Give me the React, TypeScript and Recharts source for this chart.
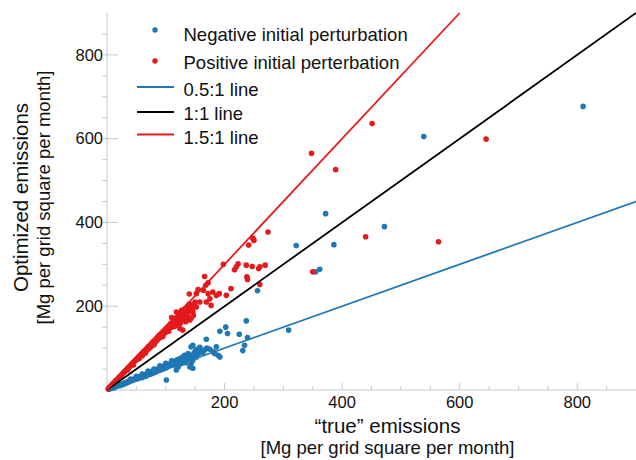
import React from "react";
import { ScatterChart, Scatter, XAxis, YAxis, Legend, Label } from "recharts";

// emissions in Mg per grid square per month: [true, optimized]
const negativePoints: [number, number][] = [
  [810, 677], [539, 605], [372, 421], [472, 390], [386, 347], [322, 345],
  [355, 282], [362, 288], [256, 237], [309, 143], [237, 165], [202, 150],
  [192, 140], [205, 135], [225, 133], [239, 125], [169, 121], [234, 107],
  [231, 94], [186, 103], [181, 91], [189, 83], [183, 87], [192, 79],
  [158, 102], [152, 97], [146, 107], [143, 103], [138, 87], [132, 83],
  [124, 75], [129, 79], [146, 71], [141, 75], [152, 79], [143, 63],
  [134, 65], [118, 67], [121, 55], [127, 63], [115, 60], [101, 24],
  [118, 48], [146, 52], [141, 55],
  [3, 2], [5, 3], [7, 4], [8, 5], [10, 5], [12, 7], [13, 6], [15, 8],
  [17, 9], [18, 10], [20, 11], [22, 12], [23, 11], [25, 14], [27, 15],
  [28, 13], [30, 17], [32, 16], [34, 18], [35, 20], [37, 19], [39, 22],
  [40, 21], [42, 24], [44, 23], [46, 26], [48, 25], [50, 28], [52, 27],
  [54, 30], [55, 32], [57, 29], [59, 33], [61, 31], [63, 36], [65, 34],
  [67, 38], [69, 36], [70, 41], [72, 39], [74, 43], [76, 40], [78, 45],
  [80, 42], [82, 47], [84, 45], [86, 50], [88, 48], [90, 53], [92, 49],
  [94, 55], [96, 52], [98, 58], [100, 54], [102, 60], [104, 57], [106, 62],
  [108, 59], [110, 64], [112, 61], [114, 68], [116, 65], [119, 72],
  [122, 70], [125, 74], [128, 70], [131, 77], [135, 80], [137, 76],
  [140, 84], [148, 88], [150, 92], [155, 86], [160, 95], [163, 90],
  [170, 100], [175, 97],
  [60, 30], [66, 33], [71, 37], [75, 38], [79, 41], [83, 43], [87, 46],
  [91, 48], [95, 50], [99, 52], [103, 55], [107, 58], [111, 60], [113, 63],
  [117, 62], [120, 66], [123, 65], [126, 68], [130, 72], [133, 70],
  [136, 74], [139, 78], [142, 80], [145, 82], [149, 84], [153, 88],
  [157, 90], [161, 92], [165, 94], [168, 98],
  [40, 26], [50, 33], [60, 38], [70, 45], [80, 50], [90, 58], [100, 64],
  [110, 70],
];

const positivePoints: [number, number][] = [
  [348, 565], [451, 636], [389, 526], [645, 599], [440, 366], [564, 354],
  [350, 282], [274, 377], [248, 363], [250, 357], [241, 346], [249, 360],
  [198, 300], [223, 301], [220, 294], [217, 287], [237, 298], [247, 295],
  [258, 290], [260, 294], [269, 298], [238, 270], [239, 264], [260, 252],
  [166, 271], [172, 256], [168, 250], [211, 242], [164, 238], [155, 240],
  [152, 230], [140, 229], [172, 230], [180, 234], [186, 226], [191, 230],
  [203, 226], [175, 218], [169, 210], [177, 202], [158, 210], [152, 198],
  [146, 186], [147, 178], [138, 174], [141, 167], [143, 171], [134, 163],
  [124, 183], [118, 186], [127, 190], [110, 173], [115, 163], [121, 155],
  [124, 147], [129, 143],
  [2, 3], [4, 6], [5, 7], [7, 10], [9, 13], [10, 15], [12, 17], [14, 21],
  [15, 22], [17, 25], [19, 27], [20, 30], [22, 32], [24, 35], [25, 36],
  [27, 40], [29, 42], [30, 44], [32, 47], [34, 49], [35, 52], [37, 54],
  [39, 57], [40, 58], [42, 62], [44, 64], [45, 66], [47, 69], [49, 71],
  [50, 73], [52, 76], [54, 79], [55, 80], [57, 84], [59, 86], [60, 88],
  [62, 91], [64, 93], [65, 95], [67, 98], [69, 100], [70, 103], [72, 105],
  [74, 108], [75, 109], [77, 113], [79, 115], [80, 117], [82, 120],
  [84, 122], [85, 124], [87, 128], [89, 129], [90, 132], [92, 134],
  [94, 137], [96, 140], [98, 142], [100, 146], [102, 148], [104, 152],
  [106, 153], [108, 158], [110, 160], [113, 164], [116, 170], [119, 174],
  [122, 178], [125, 182], [128, 188], [131, 192], [134, 195], [137, 200],
  [140, 205], [60, 82], [75, 104], [90, 125], [100, 138], [110, 150],
  [120, 165], [95, 132], [85, 118],
  [62, 86], [66, 90], [70, 97], [73, 101], [78, 108], [81, 112], [83, 116],
  [86, 121], [88, 124], [91, 128], [93, 130], [97, 135], [99, 140],
  [101, 142], [103, 145], [105, 148], [107, 150], [109, 154], [111, 156],
  [112, 160], [114, 158], [117, 165], [118, 160], [120, 170], [123, 172],
  [126, 176], [127, 170], [129, 180], [130, 175], [132, 185], [133, 178],
  [135, 190], [136, 182], [138, 192], [139, 186], [142, 196], [144, 200],
  [145, 192], [148, 205], [150, 210],
  [35, 48], [45, 60], [55, 75], [65, 88], [80, 108], [95, 128], [105, 140],
  [115, 152], [125, 160], [130, 168], [135, 172],
];

// reference lines, end points
const halfLine: [number, number][] = [[0, 0], [900, 450]];
const oneLine: [number, number][] = [[0, 0], [900, 900]];
const oneHalfLine: [number, number][] = [[0, 0], [600, 900]];

const axisTicks = [50, 100, 150, 200, 250, 300, 350, 400, 450, 500, 550, 600, 650, 700, 750, 800, 850];
const labelledTicks = [200, 400, 600, 800];

const BLUE = "#1f77b4";
const RED = "#e41a1c";
const GREY = "#c8c8c8";
const FONT = "'Liberation Sans', Arial, Helvetica, sans-serif";

const toXY = (pts: [number, number][]) => pts.map(([x, y]) => ({ x, y }));

const dot = (color: string) => (p: any) => <circle cx={p.cx} cy={p.cy} r={2.8} fill={color} />;
const noDot = () => <g />;

const isMajor = (v: number) => labelledTicks.includes(v);

const BottomTick = (p: any) => {
  const major = isMajor(p.payload.value);
  return (
    <g>
      <line x1={p.x} x2={p.x} y1={p.y} y2={p.y - (major ? 7 : 4)} stroke={GREY} />
      {major && (
        <text x={p.x} y={p.y + 17.5} textAnchor="middle" fontSize={16.5} fontFamily={FONT} fill="#111">
          {p.payload.value}
        </text>
      )}
    </g>
  );
};

const TopTick = (p: any) => {
  const major = isMajor(p.payload.value);
  return <line x1={p.x} x2={p.x} y1={p.y} y2={p.y + (major ? 7 : 4)} stroke={GREY} />;
};

const LeftTick = (p: any) => {
  const major = isMajor(p.payload.value);
  return (
    <g>
      <line x1={major ? p.x - 4 : p.x - 5} x2={major ? p.x + 11 : p.x} y1={p.y} y2={p.y} stroke={GREY} />
      {major && (
        <text x={p.x - 4} y={p.y + 5.8} textAnchor="end" fontSize={16.5} fontFamily={FONT} fill="#111">
          {p.payload.value}
        </text>
      )}
    </g>
  );
};

const RightTick = (p: any) => {
  const major = isMajor(p.payload.value);
  return <line x1={p.x} x2={p.x - (major ? 10 : 9)} y1={p.y} y2={p.y} stroke={GREY} />;
};

const XTitle = (props: any) => {
  const { x, y, width } = props.viewBox;
  const cx = x + width / 2 + 16;
  return (
    <g fontFamily={FONT} fill="#111" textAnchor="middle">
      <text x={cx} y={y + 43} fontSize={20.5}>“true” emissions</text>
      <text x={cx} y={y + 63.5} fontSize={18.5}>[Mg per grid square per month]</text>
    </g>
  );
};

const YTitle = (props: any) => {
  const { y, height } = props.viewBox;
  const cy = y + height / 2 - 4;
  return (
    <g fontFamily={FONT} fill="#111" textAnchor="middle">
      <text x={28} y={cy} fontSize={20.5} transform={`rotate(-90 28 ${cy})`}>Optimized emissions</text>
      <text x={49.5} y={cy} fontSize={18.5} transform={`rotate(-90 49.5 ${cy})`}>[Mg per grid square per month]</text>
    </g>
  );
};

const legendMarkers = [
  { label: "Negative initial perturbation", color: BLUE, kind: "dot", y: 30, textY: 41 },
  { label: "Positive initial perterbation", color: RED, kind: "dot", y: 61, textY: 69 },
  { label: "0.5:1 line", color: BLUE, kind: "line", y: 87, textY: 95.5 },
  { label: "1:1 line", color: "#000", kind: "line", y: 112, textY: 120 },
  { label: "1.5:1 line", color: RED, kind: "line", y: 134.5, textY: 144 },
];

const LegendContent = () => (
  <svg width={440} height={155} style={{ display: "block" }}>
    {legendMarkers.map((m) => (
      <g key={m.label}>
        {m.kind === "dot" ? (
          <circle cx={155} cy={m.y} r={2.7} fill={m.color} />
        ) : (
          <line x1={137} x2={174} y1={m.y} y2={m.y} stroke={m.color} strokeWidth={1.8} />
        )}
        <text x={183.5} y={m.textY} fontSize={18.5} fontFamily={FONT} fill="#111">
          {m.label}
        </text>
      </g>
    ))}
  </svg>
);

export default function App() {
  return (
    <div style={{ position: "absolute", left: 0, top: 0, width: 636, height: 460, overflow: "hidden", background: "#fff" }}>
      <ScatterChart width={636} height={460} margin={{ top: 13, right: 0, bottom: 0, left: 0 }}>
        <XAxis
          xAxisId="b"
          type="number"
          dataKey="x"
          domain={[0, 900]}
          ticks={axisTicks}
          interval={0}
          tickSize={0}
          tickMargin={0}
          tickLine={false}
          tick={<BottomTick />}
          axisLine={{ stroke: GREY }}
          height={70}
          orientation="bottom"
        >
          <Label content={<XTitle />} />
        </XAxis>
        <XAxis
          xAxisId="t"
          type="number"
          dataKey="x"
          domain={[0, 900]}
          ticks={axisTicks}
          interval={0}
          tickSize={0}
          tickMargin={0}
          tickLine={false}
          tick={<TopTick />}
          axisLine={{ stroke: GREY }}
          height={0}
          orientation="top"
        />
        <YAxis
          yAxisId="l"
          type="number"
          dataKey="y"
          domain={[0, 900]}
          ticks={axisTicks}
          interval={0}
          tickSize={0}
          tickMargin={0}
          tickLine={false}
          tick={<LeftTick />}
          axisLine={{ stroke: GREY }}
          width={107}
          orientation="left"
        >
          <Label content={<YTitle />} />
        </YAxis>
        <YAxis
          yAxisId="r"
          type="number"
          dataKey="y"
          domain={[0, 900]}
          ticks={axisTicks}
          interval={0}
          tickSize={0}
          tickMargin={0}
          tickLine={false}
          tick={<RightTick />}
          axisLine={{ stroke: GREY }}
          width={0}
          orientation="right"
        />
        <Legend
          layout="horizontal"
          verticalAlign="middle"
          align="center"
          wrapperStyle={{ left: 0, top: 0, width: 440, height: 155 }}
          content={<LegendContent />}
        />
        <Scatter xAxisId="b" yAxisId="l" data={toXY(negativePoints)} shape={dot(BLUE)} isAnimationActive={false} />
        <Scatter xAxisId="b" yAxisId="l" data={toXY(positivePoints)} shape={dot(RED)} isAnimationActive={false} />
        <Scatter xAxisId="b" yAxisId="l" data={toXY(halfLine)} shape={noDot} line={{ stroke: BLUE, strokeWidth: 1.8 }} isAnimationActive={false} />
        <Scatter xAxisId="b" yAxisId="l" data={toXY(oneLine)} shape={noDot} line={{ stroke: "#000", strokeWidth: 1.8 }} isAnimationActive={false} />
        <Scatter xAxisId="b" yAxisId="l" data={toXY(oneHalfLine)} shape={noDot} line={{ stroke: RED, strokeWidth: 1.8 }} isAnimationActive={false} />
      </ScatterChart>
    </div>
  );
}
